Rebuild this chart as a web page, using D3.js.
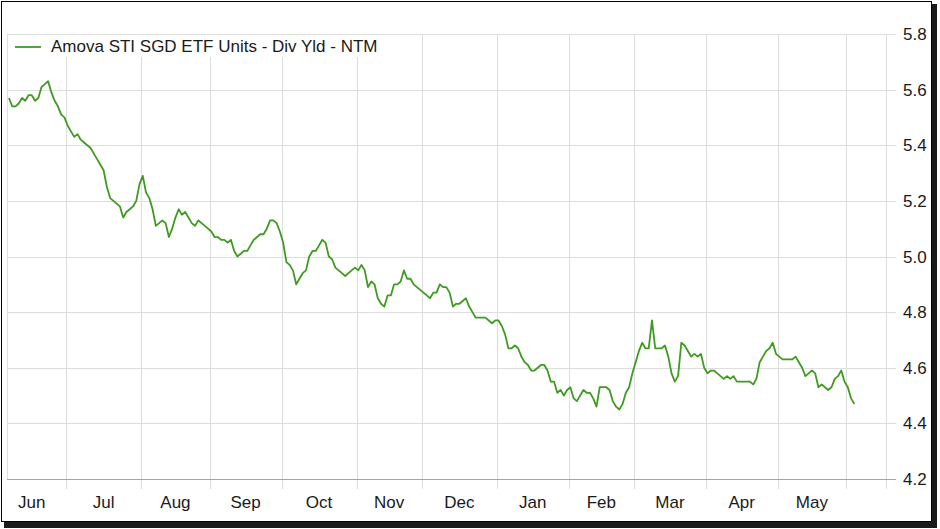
<!doctype html>
<html>
<head>
  <meta charset="utf-8">
  <style>
      body {
         margin:0;
         background:#fff;
      }
      svg {
         display:block;
         font-family:Arial, "Liberation Sans", sans-serif;
      }
      .grid line {
         stroke:#dedede;
         shape-rendering:crispEdges;
      }
      .label {
         font-size:17px;
         fill:#1a1a1a;
      }
  </style>
  <script src="https://d3js.org/d3.v7.min.js"></script>
</head>

<body>
  <script>

      // month labels and the trading-day index where each month starts (last one = next June)
      var monthLabels = ["Jun","Jul","Aug","Sep","Oct","Nov","Dec","Jan","Feb","Mar","Apr","May"];
      var monthStarts = [-3, 18, 41, 62, 84, 107, 127, 150, 172, 192, 214, 236, 257];

      var yTicks = [4.2, 4.4, 4.6, 4.8, 5.0, 5.2, 5.4, 5.6, 5.8];

      var seriesName = "Amova STI SGD ETF Units - Div Yld - NTM";

      // daily dividend yield (NTM), one value per trading day
      var divYield = [
         5.57,5.54,5.54,5.55,5.57,5.56,5.58,5.58,5.56,5.57,
         5.61,5.62,5.63,5.59,5.56,5.54,5.51,5.50,5.47,5.45,
         5.43,5.44,5.42,5.41,5.40,5.39,5.37,5.35,5.33,5.31,
         5.25,5.21,5.20,5.19,5.18,5.14,5.16,5.17,5.18,5.20,
         5.26,5.29,5.23,5.21,5.17,5.11,5.12,5.13,5.12,5.07,
         5.10,5.14,5.17,5.15,5.16,5.14,5.12,5.11,5.13,5.12,
         5.11,5.10,5.09,5.07,5.07,5.06,5.06,5.05,5.06,5.02,
         5.00,5.01,5.02,5.02,5.04,5.06,5.07,5.08,5.08,5.10,
         5.13,5.13,5.12,5.09,5.05,4.98,4.97,4.95,4.90,4.92,
         4.94,4.95,5.00,5.02,5.02,5.04,5.06,5.05,5.00,4.99,
         4.96,4.95,4.94,4.93,4.94,4.95,4.96,4.95,4.97,4.95,
         4.89,4.91,4.90,4.85,4.83,4.82,4.86,4.86,4.90,4.90,
         4.91,4.95,4.92,4.92,4.90,4.89,4.88,4.87,4.86,4.85,
         4.87,4.87,4.90,4.89,4.89,4.87,4.82,4.83,4.83,4.84,
         4.85,4.82,4.80,4.78,4.78,4.78,4.78,4.77,4.76,4.77,
         4.77,4.75,4.72,4.67,4.67,4.68,4.67,4.64,4.62,4.61,
         4.59,4.59,4.60,4.61,4.61,4.59,4.55,4.55,4.51,4.52,
         4.50,4.52,4.53,4.49,4.48,4.50,4.52,4.51,4.51,4.49,
         4.46,4.53,4.53,4.53,4.52,4.48,4.46,4.45,4.47,4.51,
         4.53,4.58,4.62,4.66,4.69,4.67,4.67,4.77,4.67,4.67,
         4.67,4.68,4.64,4.58,4.55,4.57,4.69,4.68,4.66,4.64,
         4.65,4.64,4.65,4.60,4.58,4.59,4.59,4.58,4.57,4.56,
         4.57,4.56,4.57,4.55,4.55,4.55,4.55,4.55,4.54,4.56,
         4.62,4.64,4.66,4.67,4.69,4.65,4.64,4.63,4.63,4.63,
         4.63,4.64,4.62,4.60,4.57,4.58,4.59,4.58,4.53,4.54,
         4.53,4.52,4.53,4.56,4.57,4.59,4.55,4.53,4.49,4.47
      ];

      // Layout
      var W = 940, H = 529;
      var plotL = 7, plotR = 886, plotT = 34, plotB = 479;
      var tickLen = 10;
      var lineColor = "#3f9a22";

      var svg = d3.select("body").append("svg")
         .attr("width", W)
         .attr("height", H);

      // frame with drop shadow
      svg.append("rect")
         .attr("x", 4).attr("y", 4)
         .attr("width", 933).attr("height", 524)
         .attr("fill", "#1a1a1a");
      svg.append("rect")
         .attr("x", 1.5).attr("y", 1.5)
         .attr("width", 930).attr("height", 520)
         .attr("fill", "#fff")
         .attr("stroke", "#000");

      var x = d3.scaleLinear()
         .domain([-0.6, 268.7])
         .range([plotL, plotR]);

      var y = d3.scaleLinear()
         .domain([4.2, 5.8])
         .range([plotB, plotT]);

      // horizontal grid + right ticks
      var grid = svg.append("g").attr("class", "grid");
      grid.selectAll("line.h")
         .data(yTicks)
         .enter().append("line")
         .attr("class", "h")
         .attr("x1", plotL)
         .attr("x2", plotR + tickLen)
         .attr("y1", function(d) { return Math.round(y(d)) + 0.5; })
         .attr("y2", function(d) { return Math.round(y(d)) + 0.5; });

      // vertical grid at month boundaries + bottom ticks
      var bounds = monthStarts.map(function(d) { return d - 0.5; })
         .filter(function(d) { return x(d) > plotL + 1; });
      grid.selectAll("line.v")
         .data(bounds)
         .enter().append("line")
         .attr("class", "v")
         .attr("x1", function(d) { return Math.round(x(d)) + 0.5; })
         .attr("x2", function(d) { return Math.round(x(d)) + 0.5; })
         .attr("y1", plotT)
         .attr("y2", plotB + tickLen);

      // plot borders
      grid.append("line")
         .attr("x1", plotL + 0.5).attr("x2", plotL + 0.5)
         .attr("y1", plotT).attr("y2", plotB);
      grid.append("line")
         .attr("x1", plotR + 0.5).attr("x2", plotR + 0.5)
         .attr("y1", plotT).attr("y2", plotB + tickLen);
      svg.append("line")
         .attr("x1", plotL).attr("x2", plotR + tickLen)
         .attr("y1", plotB + 0.5).attr("y2", plotB + 0.5)
         .attr("stroke", "#a6a6a6")
         .style("shape-rendering", "crispEdges");

      // y labels on the right
      svg.append("g").selectAll("text")
         .data(yTicks)
         .enter().append("text")
         .attr("class", "label")
         .attr("x", plotR + 17)
         .attr("y", function(d) { return y(d); })
         .attr("dy", "0.36em")
         .text(function(d) { return d.toFixed(1); });

      // month labels centred in each month
      svg.append("g").selectAll("text")
         .data(monthLabels)
         .enter().append("text")
         .attr("class", "label")
         .attr("text-anchor", "middle")
         .attr("x", function(d, i) {
            return x((monthStarts[i] + monthStarts[i + 1]) / 2 - 0.5);
         })
         .attr("y", 508)
         .text(function(d) { return d; });

      // legend box (covers the grid behind it)
      svg.append("rect")
         .attr("x", plotL + 1).attr("y", plotT + 1)
         .attr("width", 384).attr("height", 22)
         .attr("fill", "#fff");
      svg.append("line")
         .attr("x1", 15).attr("x2", 41)
         .attr("y1", 47).attr("y2", 47)
         .attr("stroke", lineColor)
         .attr("stroke-width", 1.8);
      svg.append("text")
         .attr("class", "label")
         .attr("x", 51)
         .attr("y", 52)
         .text(seriesName);

      // the series
      var line = d3.line()
         .x(function(d, i) { return x(i); })
         .y(function(d) { return y(d); });

      svg.append("path")
         .datum(divYield)
         .attr("fill", "none")
         .attr("stroke", lineColor)
         .attr("stroke-width", 1.8)
         .attr("stroke-linejoin", "round")
         .attr("d", line);

  </script>
</body>
</html>
